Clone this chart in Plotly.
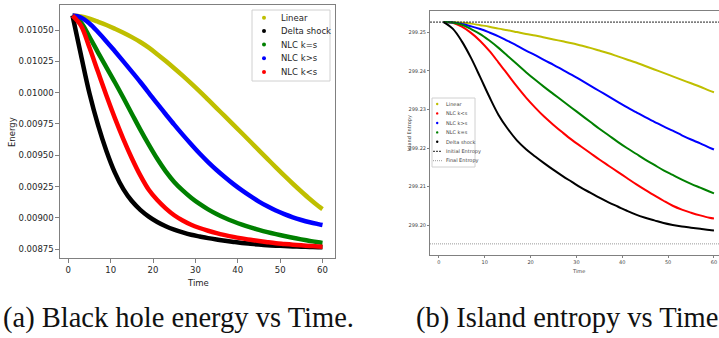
import plotly.graph_objects as go

W, H = 719, 338

# ---------------- data ----------------
time = [1, 3, 5, 7, 9, 11, 13, 15, 17, 19, 21, 23, 25, 27, 29, 31, 33, 35, 37, 39, 41, 43, 45, 47, 49, 51, 53, 55,
        57, 59, 60]

# (a) Black hole energy
energy_linear = [0.010615, 0.010608, 0.010590, 0.010566, 0.010540, 0.010510, 0.010478, 0.010443, 0.010404, 0.010359,
                 0.010307, 0.010252, 0.010195, 0.010136, 0.010074, 0.010010, 0.009944, 0.009877, 0.009810, 0.009743,
                 0.009676, 0.009608, 0.009540, 0.009472, 0.009404, 0.009337, 0.009273, 0.009211, 0.009151, 0.009095,
                 0.009071]
energy_delta = [0.010615, 0.010300, 0.009995, 0.009745, 0.009535, 0.009362, 0.009230, 0.009135, 0.009065, 0.009011,
                0.008968, 0.008934, 0.008907, 0.008885, 0.008866, 0.008852, 0.008839, 0.008828, 0.008818, 0.008809,
                0.008801, 0.008794, 0.008788, 0.008783, 0.008779, 0.008776, 0.008773, 0.008771, 0.008769, 0.008767,
                0.008766]
energy_nlc_eq = [0.010615, 0.010560, 0.010445, 0.010322, 0.010202, 0.010083, 0.009959, 0.009832, 0.009705, 0.009585,
                 0.009472, 0.009372, 0.009288, 0.009220, 0.009162, 0.009112, 0.009069, 0.009032, 0.009000, 0.008972,
                 0.008947, 0.008925, 0.008905, 0.008887, 0.008871, 0.008856, 0.008842, 0.008829, 0.008817, 0.008806,
                 0.008801]
energy_nlc_gt = [0.010615, 0.010600, 0.010552, 0.010484, 0.010409, 0.010330, 0.010250, 0.010168, 0.010085, 0.009999,
                 0.009912, 0.009828, 0.009745, 0.009665, 0.009588, 0.009514, 0.009446, 0.009383, 0.009325, 0.009270,
                 0.009220, 0.009174, 0.009131, 0.009093, 0.009059, 0.009030, 0.009005, 0.008984, 0.008966, 0.008951,
                 0.008944]
energy_nlc_lt = [0.010615, 0.010535, 0.010360, 0.010168, 0.009977, 0.009797, 0.009630, 0.009477, 0.009340, 0.009225,
                 0.009143, 0.009077, 0.009022, 0.008980, 0.008946, 0.008920, 0.008898, 0.008879, 0.008863, 0.008849,
                 0.008837, 0.008826, 0.008816, 0.008807, 0.008799, 0.008793, 0.008787, 0.008782, 0.008777, 0.008773,
                 0.008771]

# (b) Island entropy
entropy_linear = [299.2527, 299.2527, 299.2525, 299.2523, 299.2519, 299.2515, 299.2510, 299.2506, 299.2501, 299.2496,
                  299.2492, 299.2487, 299.2482, 299.2477, 299.2472, 299.2466, 299.2460, 299.2453, 299.2446, 299.2438,
                  299.2430, 299.2422, 299.2413, 299.2404, 299.2395, 299.2386, 299.2377, 299.2368, 299.2359, 299.2349,
                  299.2345]
entropy_nlc_lt = [299.2527, 299.2525, 299.2515, 299.2499, 299.2478, 299.2452, 299.2422, 299.2391, 299.2360, 299.2331,
                  299.2305, 299.2281, 299.2260, 299.2240, 299.2221, 299.2204, 299.2187, 299.2170, 299.2154, 299.2138,
                  299.2122, 299.2106, 299.2091, 299.2077, 299.2063, 299.2050, 299.2040, 299.2032, 299.2025, 299.2019,
                  299.2017]
entropy_nlc_gt = [299.2527, 299.2526, 299.2522, 299.2516, 299.2509, 299.2500, 299.2490, 299.2478, 299.2466, 299.2453,
                  299.2441, 299.2428, 299.2416, 299.2403, 299.2390, 299.2376, 299.2362, 299.2348, 299.2334, 299.2320,
                  299.2306, 299.2293, 299.2280, 299.2268, 299.2256, 299.2245, 299.2233, 299.2222, 299.2212, 299.2201,
                  299.2196]
entropy_nlc_eq = [299.2527, 299.2526, 299.2520, 299.2509, 299.2496, 299.2479, 299.2460, 299.2439, 299.2418, 299.2397,
                  299.2377, 299.2358, 299.2340, 299.2322, 299.2304, 299.2286, 299.2268, 299.2250, 299.2233, 299.2216,
                  299.2200, 299.2185, 299.2170, 299.2156, 299.2142, 299.2130, 299.2118, 299.2107, 299.2097, 299.2087,
                  299.2082]
entropy_delta = [299.2527, 299.2510, 299.2477, 299.2434, 299.2384, 299.2333, 299.2286, 299.2250, 299.2220, 299.2197,
                 299.2178, 299.2160, 299.2143, 299.2127, 299.2112, 299.2097, 299.2084, 299.2071, 299.2059, 299.2048,
                 299.2037, 299.2027, 299.2019, 299.2012, 299.2005, 299.2000, 299.1996, 299.1993, 299.1990, 299.1987,
                 299.1986]
initial_entropy = 299.2527
final_entropy = 299.1951

x_ticks = [0, 10, 20, 30, 40, 50, 60]
energy_ticks = [0.00875, 0.00900, 0.00925, 0.00950, 0.00975, 0.01000, 0.01025, 0.01050]
entropy_ticks = [299.20, 299.21, 299.22, 299.23, 299.24, 299.25]

Y = "#bfbf00"; G = "#008000"; B = "#0000ff"; R = "#ff0000"; K = "#000000"

left_series = [("Linear", energy_linear, Y), ("Delta shock", energy_delta, K), ("NLC k=s", energy_nlc_eq, G),
               ("NLC k>s", energy_nlc_gt, B), ("NLC k<s", energy_nlc_lt, R)]
right_series = [("Linear", entropy_linear, Y), ("NLC k<s", entropy_nlc_lt, R), ("NLC k>s", entropy_nlc_gt, B),
                ("NLC k=s", entropy_nlc_eq, G), ("Delta shock", entropy_delta, K)]

fig = go.Figure()
for name, vals, c in left_series:
    fig.add_trace(go.Scatter(x=time, y=vals, mode="lines", name=name, xaxis="x", yaxis="y",
                             line=dict(color=c, width=4.5, shape="spline", smoothing=1)))
for name, vals, c in right_series:
    fig.add_trace(go.Scatter(x=time, y=vals, mode="lines", name=name, xaxis="x2", yaxis="y2",
                             line=dict(color=c, width=2, shape="spline", smoothing=1)))


def px(x):
    return x / W


def py(y):
    return 1 - y / H


FR = "#808080"
TK = "#262626"
fig.update_layout(
    width=W, height=H, margin=dict(l=0, r=0, t=0, b=0),
    paper_bgcolor="white", plot_bgcolor="white", showlegend=False,
    font=dict(family="DejaVu Sans", color=TK),
    xaxis=dict(domain=[px(60), px(335)], range=[-1.95, 62.95], tickvals=x_ticks, ticks="outside", ticklen=3.5,
               tickcolor=FR, showline=True, mirror=True, linecolor=FR, linewidth=1.3, showgrid=False,
               zeroline=False, tickfont=dict(size=8.5, color=TK), anchor="y"),
    yaxis=dict(domain=[py(258), py(5)], range=[0.0086806, 0.0106995], tickvals=energy_ticks, tickformat=".5f",
               ticks="outside", ticklen=3.5, tickcolor=FR, showline=True, mirror=True, linecolor=FR,
               linewidth=1.3, showgrid=False, zeroline=False, tickfont=dict(size=8.5, color=TK), anchor="x"),
    xaxis2=dict(domain=[px(430), 1], range=[-1.95, 61.1], tickvals=x_ticks, ticks="outside", ticklen=2,
                tickcolor=FR, showline=True, mirror=True, linecolor=FR, linewidth=1, showgrid=False,
                zeroline=False, tickfont=dict(size=5, color="#444"), anchor="y2"),
    yaxis2=dict(domain=[py(255), py(11)], range=[299.19221, 299.25558], tickvals=entropy_ticks, tickformat=".2f",
                ticks="outside", ticklen=2, tickcolor=FR, showline=True, mirror=False, linecolor=FR, linewidth=1,
                showgrid=False, zeroline=False, tickfont=dict(size=5, color="#444"), anchor="x2"),
)

shapes = []
# reference lines in panel (b)
shapes.append(dict(type="line", xref="x2 domain", yref="y2", x0=0, x1=1, y0=initial_entropy, y1=initial_entropy,
                   line=dict(color="#222", width=1, dash="2px,1px")))
shapes.append(dict(type="line", xref="x2 domain", yref="y2", x0=0, x1=1, y0=final_entropy, y1=final_entropy,
                   line=dict(color="#999", width=1, dash="1px,1px")))

annotations = []
# axis titles
annotations.append(dict(text="Energy", x=px(12), y=py(132), xref="paper", yref="paper", showarrow=False,
                        textangle=-90, font=dict(size=8.5, color=TK), xanchor="center", yanchor="middle"))
annotations.append(dict(text="Time", x=px(197.5), y=py(283), xref="paper", yref="paper", showarrow=False,
                        font=dict(size=8.5, color=TK), xanchor="center", yanchor="middle"))
annotations.append(dict(text="Island Entropy", x=px(409), y=py(133), xref="paper", yref="paper", showarrow=False,
                        textangle=-90, font=dict(size=5, color="#444"), xanchor="center", yanchor="middle"))
annotations.append(dict(text="Time", x=px(578), y=py(271), xref="paper", yref="paper", showarrow=False,
                        font=dict(size=5, color="#444"), xanchor="center", yanchor="middle"))

# legend (a)
shapes.append(dict(type="rect", xref="paper", yref="paper", x0=px(252), x1=px(330), y0=py(81), y1=py(10),
                   line=dict(color="#d0d0d0", width=1), fillcolor="rgba(255,255,255,0.8)"))
rows_a = [17.7, 30.9, 44.6, 58.3, 72]
for (name, _, c), ry in zip(left_series, rows_a):
    shapes.append(dict(type="circle", xref="paper", yref="paper", x0=px(262), x1=px(266), y0=py(ry + 2),
                       y1=py(ry - 2), line=dict(width=0), fillcolor=c))
    annotations.append(dict(text=name, x=px(278.5), y=py(ry), xref="paper", yref="paper", showarrow=False,
                            font=dict(size=8.5, color=TK), xanchor="left", yanchor="middle"))

# legend (b)
shapes.append(dict(type="rect", xref="paper", yref="paper", x0=px(432), x1=px(475), y0=py(167), y1=py(98),
                   line=dict(color="#d0d0d0", width=1), fillcolor="rgba(255,255,255,0.8)"))
rows_b = [104, 113.4, 123, 132.4, 141.8, 151.3, 160.7]
for (name, _, c), ry in zip(right_series, rows_b[:5]):
    shapes.append(dict(type="circle", xref="paper", yref="paper", x0=px(436), x1=px(438.4), y0=py(ry + 1.2),
                       y1=py(ry - 1.2), line=dict(width=0), fillcolor=c))
    annotations.append(dict(text=name, x=px(443.5), y=py(ry), xref="paper", yref="paper", showarrow=False,
                            font=dict(size=5, color="#444"), xanchor="left", yanchor="middle"))
for (name, col, dash), ry in zip([("Initial Entropy", "#222", "2px,1px"), ("Final Entropy", "#999", "1px,1px")],
                                 rows_b[5:]):
    shapes.append(dict(type="line", xref="paper", yref="paper", x0=px(433), x1=px(442), y0=py(ry), y1=py(ry),
                       line=dict(color=col, width=1, dash=dash)))
    annotations.append(dict(text=name, x=px(443.5), y=py(ry), xref="paper", yref="paper", showarrow=False,
                            font=dict(size=5, color="#444"), xanchor="left", yanchor="middle"))

# captions
annotations.append(dict(text="(a) Black hole energy vs Time.", x=px(1), y=py(318), xref="paper", yref="paper",
                        showarrow=False, font=dict(family="Liberation Serif", size=28.5, color="#111"),
                        xanchor="left", yanchor="middle"))
annotations.append(dict(text="(b) Island entropy vs Time", x=px(414), y=py(318), xref="paper", yref="paper",
                        showarrow=False, font=dict(family="Liberation Serif", size=28.5, color="#111"),
                        xanchor="left", yanchor="middle"))

fig.update_layout(shapes=shapes, annotations=annotations)
fig.write_html("out.html")
